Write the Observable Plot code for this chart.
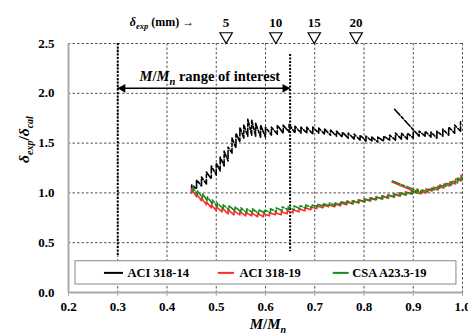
<!DOCTYPE html>
<html><head><meta charset="utf-8">
<script src="https://cdn.jsdelivr.net/npm/d3@7"></script>
<script src="https://cdn.jsdelivr.net/npm/@observablehq/plot@0.6"></script>
<style>
body{margin:0;background:#fff;}
#chart svg{display:block;}
#chart svg, #chart svg text, #chart svg tspan {font-family:"Liberation Serif","Times New Roman",serif !important; font-weight:bold;}
</style></head><body><div id="chart"></div>
<script>
// ---- data ----
const xTicks = [0.2,0.3,0.4,0.5,0.6,0.7,0.8,0.9,1.0];
const yTicks = [0.0,0.5,1.0,1.5,2.0,2.5];
const seriesNames = ["ACI 318-14","ACI 318-19","CSA A23.3-19"];
const seriesColors = ["#000000","#ff2a2a","#1c8a1c"];

// displacement markers (top)
const deltaLabels = ["5","10","15","20"];
const deltaMM = [0.52,0.621,0.699,0.784];

// M/Mn range of interest
const rangeX = [0.3,0.65];
const rangeTop = [2.5,2.39];
const rangeBottom = [0.36,0.41];

// ACI 318-14 (segment 1 teeth: x, low, high)
const aci14_x = [0.450,0.460,0.470,0.480,0.490,0.500,0.508,0.516,0.524,0.532,0.540,0.548,0.556,0.564,0.572,0.580,0.590,0.600,0.612,0.624,0.636,0.648,0.660,0.672,0.684,0.696,0.708,0.720,0.732,0.744,0.756,0.768,0.780,0.792,0.804,0.816,0.828,0.840,0.852,0.864,0.876,0.888,0.900];
const aci14_lo = [1.00,1.04,1.07,1.09,1.14,1.18,1.22,1.27,1.32,1.40,1.45,1.51,1.55,1.57,1.58,1.57,1.56,1.56,1.58,1.59,1.60,1.61,1.60,1.60,1.60,1.59,1.60,1.59,1.58,1.57,1.56,1.55,1.54,1.53,1.52,1.52,1.51,1.52,1.53,1.53,1.54,1.54,1.55];
const aci14_hi = [1.08,1.13,1.16,1.21,1.27,1.30,1.36,1.42,1.46,1.55,1.60,1.66,1.68,1.74,1.73,1.70,1.68,1.66,1.66,1.68,1.68,1.69,1.67,1.66,1.66,1.66,1.65,1.64,1.63,1.62,1.61,1.60,1.59,1.58,1.57,1.56,1.56,1.57,1.58,1.60,1.60,1.60,1.61];
// segment 2 (start point then teeth)
const aci14_start2 = [0.862,1.84];
const aci14_x2 = [0.912,0.924,0.936,0.948,0.960,0.972,0.984,0.996];
const aci14_lo2 = [1.57,1.57,1.56,1.55,1.57,1.58,1.60,1.62];
const aci14_hi2 = [1.62,1.62,1.61,1.62,1.64,1.66,1.68,1.72];

// ACI 318-19
const aci19_x = [0.450,0.460,0.470,0.480,0.490,0.500,0.512,0.524,0.536,0.548,0.560,0.572,0.584,0.596,0.608,0.620,0.632,0.644,0.656,0.668,0.680,0.692,0.704,0.716,0.728,0.740,0.752,0.764,0.776,0.788,0.800,0.812,0.824,0.836,0.848,0.860,0.872,0.884,0.896,0.908];
const aci19_lo = [1.00,0.96,0.92,0.88,0.85,0.82,0.81,0.79,0.78,0.78,0.77,0.77,0.76,0.76,0.77,0.78,0.78,0.79,0.80,0.81,0.82,0.83,0.84,0.85,0.86,0.86,0.87,0.88,0.89,0.90,0.91,0.92,0.93,0.94,0.95,0.96,0.97,0.98,0.99,1.00];
const aci19_hi = [1.04,0.99,0.95,0.91,0.88,0.86,0.85,0.83,0.82,0.81,0.80,0.80,0.79,0.79,0.80,0.80,0.81,0.82,0.83,0.84,0.85,0.86,0.87,0.88,0.88,0.89,0.90,0.91,0.92,0.93,0.94,0.95,0.96,0.97,0.98,0.99,1.00,1.01,1.02,1.04];
const aci19_start2 = [0.857,1.11];
const aci19_x2 = [0.915,0.926,0.938,0.950,0.962,0.974,0.986,0.997];
const aci19_lo2 = [0.99,1.00,1.02,1.03,1.05,1.07,1.09,1.12];
const aci19_hi2 = [1.02,1.04,1.05,1.07,1.09,1.11,1.14,1.18];

// CSA A23.3-19
const csa_x = [0.452,0.462,0.472,0.482,0.492,0.502,0.514,0.526,0.538,0.550,0.562,0.574,0.586,0.598,0.610,0.622,0.634,0.646,0.658,0.670,0.682,0.694,0.706,0.718,0.730,0.742,0.754,0.766,0.778,0.790,0.802,0.814,0.826,0.838,0.850,0.862,0.874,0.886,0.898,0.910];
const csa_lo = [1.02,0.98,0.95,0.92,0.89,0.86,0.84,0.83,0.82,0.81,0.80,0.80,0.79,0.80,0.80,0.81,0.82,0.83,0.83,0.84,0.85,0.85,0.86,0.86,0.87,0.87,0.88,0.89,0.89,0.90,0.91,0.92,0.93,0.94,0.95,0.96,0.97,0.98,0.99,1.00];
const csa_hi = [1.06,1.02,0.99,0.96,0.93,0.90,0.88,0.87,0.86,0.85,0.84,0.84,0.83,0.83,0.84,0.85,0.86,0.86,0.87,0.87,0.88,0.88,0.89,0.89,0.90,0.90,0.91,0.92,0.92,0.93,0.94,0.95,0.96,0.97,0.98,0.99,1.00,1.01,1.02,1.03];
const csa_start2 = [0.858,1.12];
const csa_x2 = [0.918,0.930,0.942,0.954,0.966,0.978,0.990,0.999];
const csa_lo2 = [1.00,1.01,1.03,1.04,1.06,1.08,1.10,1.13];
const csa_hi2 = [1.03,1.04,1.06,1.08,1.10,1.12,1.15,1.17];

// ---- build table from arrays ----
function teeth(series, seg, start, xs, lo, hi) {
  const pts = [];
  if (start) pts.push({series, seg, x: start[0], y: start[1]});
  xs.forEach((x, i) => { pts.push({series, seg, x, y: lo[i]}); pts.push({series, seg, x, y: hi[i]}); });
  return pts;
}
const black = [...teeth(seriesNames[0], "a", null, aci14_x, aci14_lo, aci14_hi), ...teeth(seriesNames[0], "b", aci14_start2, aci14_x2, aci14_lo2, aci14_hi2)];
const red = [...teeth(seriesNames[1], "a", null, aci19_x, aci19_lo, aci19_hi), ...teeth(seriesNames[1], "b", aci19_start2, aci19_x2, aci19_lo2, aci19_hi2)];
const green = [...teeth(seriesNames[2], "a", null, csa_x, csa_lo, csa_hi), ...teeth(seriesNames[2], "b", csa_start2, csa_x2, csa_lo2, csa_hi2)];

const markers = deltaLabels.map((l, i) => ({label: l, x: deltaMM[i]}));
const ranges = rangeX.map((x, i) => ({x, y1: rangeTop[i], y2: rangeBottom[i]}));

// ---- layout constants ----
const L = {
  legX1: 0.2142, legX2: 0.9877, legY1: 0.08, legY2: 0.314, legY: 0.197,
  sampleX1: [0.273, 0.504, 0.7375], sampleX2: [0.3116, 0.537, 0.770], textX: [0.3197, 0.547, 0.776],
  dash: ["7,3,4,3", null, "8,3,3,3"]
};
const legend = seriesNames.map((n, i) => ({name: n, color: seriesColors[i], x1: L.sampleX1[i], x2: L.sampleX2[i], tx: L.textX[i], dash: L.dash[i]}));

const gridStyle = {stroke: "#555", strokeOpacity: 1, strokeDasharray: "2.5,2", strokeWidth: 1};

const chart = Plot.plot({
  width: 468, height: 336,
  marginLeft: 68, marginRight: 6, marginTop: 43, marginBottom: 44,
  style: {fontFamily: "'Liberation Serif', 'Times New Roman', serif", fontWeight: "bold", fontSize: "13px", background: "#fff", color: "#000"},
  x: {domain: [0.2, 1.0]},
  y: {domain: [0, 2.5]},
  marks: [
    Plot.gridX(xTicks, gridStyle),
    Plot.gridY(yTicks, gridStyle),
    Plot.ruleX([0.2], {stroke: "#aaa", strokeWidth: 2}),
    Plot.ruleY([0], {stroke: "#aaa", strokeWidth: 2}),
    Plot.axisX(xTicks, {tickSize: 4, tickPadding: 5, tickFormat: d3.format(".1f"), label: null, stroke: "#aaa", fontSize: 13, fontWeight: "bold"}),
    Plot.axisY(yTicks, {tickSize: 0, tickPadding: 14, tickFormat: d3.format(".1f"), label: null, fontSize: 13, fontWeight: "bold"}),
    // range of interest
    Plot.ruleX(ranges, {x: "x", y1: "y1", y2: "y2", stroke: "#000", strokeWidth: 2, strokeDasharray: "2,1.5"}),
    Plot.ruleY([2.05], {x1: rangeX[0], x2: rangeX[1], stroke: "#000", strokeWidth: 1.5}),
    Plot.dot([rangeX[1]], {x: d => d, y: 2.05, symbol: "triangle", r: 3.3, rotate: 90, dx: -5, fill: "#000", stroke: "none"}),
    Plot.dot([rangeX[0]], {x: d => d, y: 2.05, symbol: "triangle", r: 3.3, rotate: -90, dx: 5, fill: "#000", stroke: "none"}),
    Plot.text(["RANGELABEL"], {x: 0.487, y: 2.17, fontSize: 14.5, fontWeight: "bold"}),
    // curves
    Plot.line(black, {x: "x", y: "y", z: "seg", stroke: seriesColors[0], strokeWidth: 1.6, strokeDasharray: "8,2,3,2", curve: "linear"}),
    Plot.line(red, {x: "x", y: "y", z: "seg", stroke: seriesColors[1], strokeWidth: 1.6, curve: "linear"}),
    Plot.line(green, {x: "x", y: "y", z: "seg", stroke: seriesColors[2], strokeWidth: 1.6, strokeDasharray: "8,2,3,2", curve: "linear"}),
    // legend
    Plot.rect([0], {x1: L.legX1, x2: L.legX2, y1: L.legY1, y2: L.legY2, fill: "#fff", stroke: "#888", strokeWidth: 1}),
    Plot.ruleY(legend, {x1: "x1", x2: "x2", y: L.legY, stroke: "color", strokeWidth: 2, strokeDasharray: "dash"}),
    Plot.text(legend, {x: "tx", y: L.legY, text: "name", textAnchor: "start", fontSize: 12.5, fontWeight: "bold"}),
    // top markers
    Plot.dot(markers, {x: "x", y: 2.572, symbol: "triangle", r: 4.6, rotate: 180, fill: "#fff", stroke: "#000", strokeWidth: 1.2}),
    Plot.text(markers, {x: "x", y: 2.71, text: "label", fontSize: 13, fontWeight: "bold"}),
    Plot.text(["TOPLABEL"], {x: 0.39, y: 2.71, fontSize: 12, fontWeight: "bold"}),
    // axis labels
    Plot.text(["YLABEL"], {frameAnchor: "left", dx: -44, dy: -5, rotate: -90, fontSize: 15.5, fontWeight: "bold"}),
    Plot.text(["XLABEL"], {x: 0.605, frameAnchor: "bottom", dy: 36, fontSize: 15, fontWeight: "bold"})
  ]
});
document.getElementById("chart").appendChild(chart);

// rich text (italics / subscripts)
const rich = {
  RANGELABEL: '<tspan font-style="italic">M</tspan>/<tspan font-style="italic">M</tspan><tspan font-style="italic" font-size="10.5" dy="4">n</tspan><tspan dy="-4"> range of interest</tspan>',
  TOPLABEL: '<tspan font-style="italic">δ</tspan><tspan font-style="italic" font-size="8.5" dy="3">exp</tspan><tspan dy="-3"> (mm) →</tspan>',
  YLABEL: '<tspan font-style="italic">δ</tspan><tspan font-style="italic" font-size="10" dy="4">exp</tspan><tspan dy="-4">/</tspan><tspan font-style="italic">δ</tspan><tspan font-style="italic" font-size="10" dy="4">cal</tspan>',
  XLABEL: '<tspan font-style="italic">M</tspan>/<tspan font-style="italic">M</tspan><tspan font-style="italic" font-size="10" dy="4">n</tspan>'
};
chart.querySelectorAll("text").forEach(t => {
  const k = t.textContent;
  if (rich[k]) t.innerHTML = rich[k];
});
</script></body></html>
